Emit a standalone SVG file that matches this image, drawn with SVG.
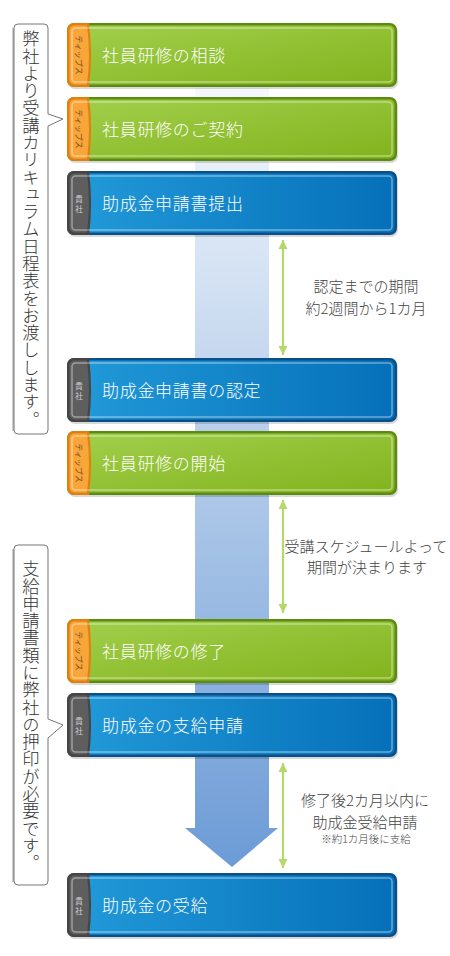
<svg xmlns="http://www.w3.org/2000/svg" width="450" height="956" viewBox="0 0 450 956">
<style>
.lbl{font-family:"Noto Sans CJK JP","Noto Sans",sans-serif;font-size:17px;font-weight:300;fill:#fff;letter-spacing:0.7px}
.note{font-family:"Noto Sans CJK JP","Noto Sans",sans-serif;font-size:15px;font-weight:300;fill:#444;text-anchor:middle}
.small{font-size:10.5px}
.vt{font-family:"Noto Sans CJK JP",sans-serif;font-size:17.3px;font-weight:300;fill:#333;writing-mode:vertical-rl}
.tab{font-family:"Noto Sans CJK JP",sans-serif;font-size:8px;text-anchor:middle;dominant-baseline:central}
.callout{fill:#fff;stroke:#777;stroke-width:1}
.dim{stroke:#b6d76b;stroke-width:2.2;fill:none}
</style>
<defs>
<linearGradient id="gFill" x1="0" y1="0" x2="1" y2="1">
<stop offset="0" stop-color="#a2cf4c"/>
<stop offset="1" stop-color="#82b31d"/>
</linearGradient>
<linearGradient id="bFill" x1="0" y1="0" x2="1" y2="0">
<stop offset="0" stop-color="#229ad9"/>
<stop offset="1" stop-color="#0570b9"/>
</linearGradient>
<linearGradient id="flow" gradientUnits="userSpaceOnUse" x1="0" y1="88" x2="0" y2="867">
<stop offset="0" stop-color="#f5f8fc"/>
<stop offset="1" stop-color="#6c9bd6"/>
</linearGradient>
<marker id="ah" viewBox="0 0 10 10" refX="10" refY="5" markerUnits="userSpaceOnUse" markerWidth="9" markerHeight="10" orient="auto-start-reverse">
<path d="M0 0 L10 5 L0 10 Z" fill="#b6d76b"/>
</marker>
<g id="gbox">
<rect x="1" y="2" width="330" height="64" rx="7" fill="#000" opacity="0.15"/>
<rect x="0" y="0" width="330" height="64" rx="7" fill="#5b8c10"/>
<rect x="2.5" y="2.5" width="325" height="59" rx="5" fill="url(#gFill)"/>
<path d="M7 0 H22 Q26 32 22 64 H7 A7 7 0 0 1 0 57 V7 A7 7 0 0 1 7 0 Z" fill="#e1800e"/>
<path d="M7.5 2.5 H20 Q24 32 20 61.5 H7.5 A5 5 0 0 1 2.5 56.5 V7.5 A5 5 0 0 1 7.5 2.5 Z" fill="#f8a53a"/>
<rect x="5" y="5" width="320" height="54" rx="3.5" fill="none" stroke="#fff" stroke-opacity="0.4" stroke-width="1.5"/>
<text class="tab" fill="#6b4a20" transform="translate(12 32) rotate(90)">ティップス</text>
</g>
<g id="bbox">
<rect x="1" y="2" width="330" height="64" rx="7" fill="#000" opacity="0.15"/>
<rect x="0" y="0" width="330" height="64" rx="7" fill="#0b4f89"/>
<rect x="2.5" y="2.5" width="325" height="59" rx="5" fill="url(#bFill)"/>
<path d="M7 0 H22 Q26 32 22 64 H7 A7 7 0 0 1 0 57 V7 A7 7 0 0 1 7 0 Z" fill="#454545"/>
<path d="M7.5 2.5 H20 Q24 32 20 61.5 H7.5 A5 5 0 0 1 2.5 56.5 V7.5 A5 5 0 0 1 7.5 2.5 Z" fill="#5e5e5e"/>
<rect x="5" y="5" width="320" height="54" rx="3.5" fill="none" stroke="#fff" stroke-opacity="0.4" stroke-width="1.5"/>
<text class="tab" fill="#d0d0d0" x="12" y="27">貴</text>
<text class="tab" fill="#d0d0d0" x="12" y="37">社</text>
</g>
</defs>

<g id="connectors">
<path id="flow-arrow" d="M195 88 H269 V828 H278 L232 867 L185 828 H195 Z" fill="url(#flow)"/>
<line class="dim" x1="283" y1="240" x2="283" y2="355" marker-start="url(#ah)" marker-end="url(#ah)"/>
<line class="dim" x1="283" y1="500" x2="283" y2="613" marker-start="url(#ah)" marker-end="url(#ah)"/>
<line class="dim" x1="283" y1="763" x2="283" y2="868" marker-start="url(#ah)" marker-end="url(#ah)"/>
</g>

<g id="notes">
<text class="note" x="366" y="292">認定までの期間</text>
<text class="note" x="366" y="314">約2週間から1カ月</text>
<text class="note" x="366" y="552">受講スケジュールよって</text>
<text class="note" x="367" y="573">期間が決まります</text>
<text class="note" x="365" y="806">修了後2カ月以内に</text>
<text class="note" x="365" y="828">助成金受給申請</text>
<text class="note small" x="366" y="843">※約1カ月後に支給</text>
</g>

<g id="callout1">
<line x1="13.5" y1="28" x2="13.5" y2="431" stroke="#bdbdbd" stroke-width="2.5"/>
<path class="callout" d="M18 24 H44 Q48 24 48 28 V114 L63 119 L48 126 V430 Q48 434 44 434 H18 Q14 434 14 430 V28 Q14 24 18 24 Z"/>
<text class="vt" x="31" y="30">弊社より受講カリキュラム日程表をお渡しします。</text>
</g>
<g id="callout2">
<line x1="13.5" y1="549" x2="13.5" y2="882" stroke="#bdbdbd" stroke-width="2.5"/>
<path class="callout" d="M18 545 H44 Q48 545 48 549 V719 L63 725 L48 738 V881 Q48 885 44 885 H18 Q14 885 14 881 V549 Q14 545 18 545 Z"/>
<text class="vt" x="31" y="560">支給申請書類に弊社の押印が必要です。</text>
</g>

<g id="n1"><use href="#gbox" x="67" y="23"/><text class="lbl" x="102" y="62">社員研修の相談</text></g>
<g id="n2"><use href="#gbox" x="67" y="97"/><text class="lbl" x="102" y="136">社員研修のご契約</text></g>
<g id="n3"><use href="#bbox" x="67" y="171"/><text class="lbl" x="102" y="210">助成金申請書提出</text></g>
<g id="n4"><use href="#bbox" x="67" y="358"/><text class="lbl" x="102" y="397">助成金申請書の認定</text></g>
<g id="n5"><use href="#gbox" x="67" y="431"/><text class="lbl" x="102" y="470">社員研修の開始</text></g>
<g id="n6"><use href="#gbox" x="67" y="619"/><text class="lbl" x="102" y="658">社員研修の修了</text></g>
<g id="n7"><use href="#bbox" x="67" y="693"/><text class="lbl" x="102" y="732">助成金の支給申請</text></g>
<g id="n8"><use href="#bbox" x="67" y="873"/><text class="lbl" x="102" y="912">助成金の受給</text></g>
</svg>
